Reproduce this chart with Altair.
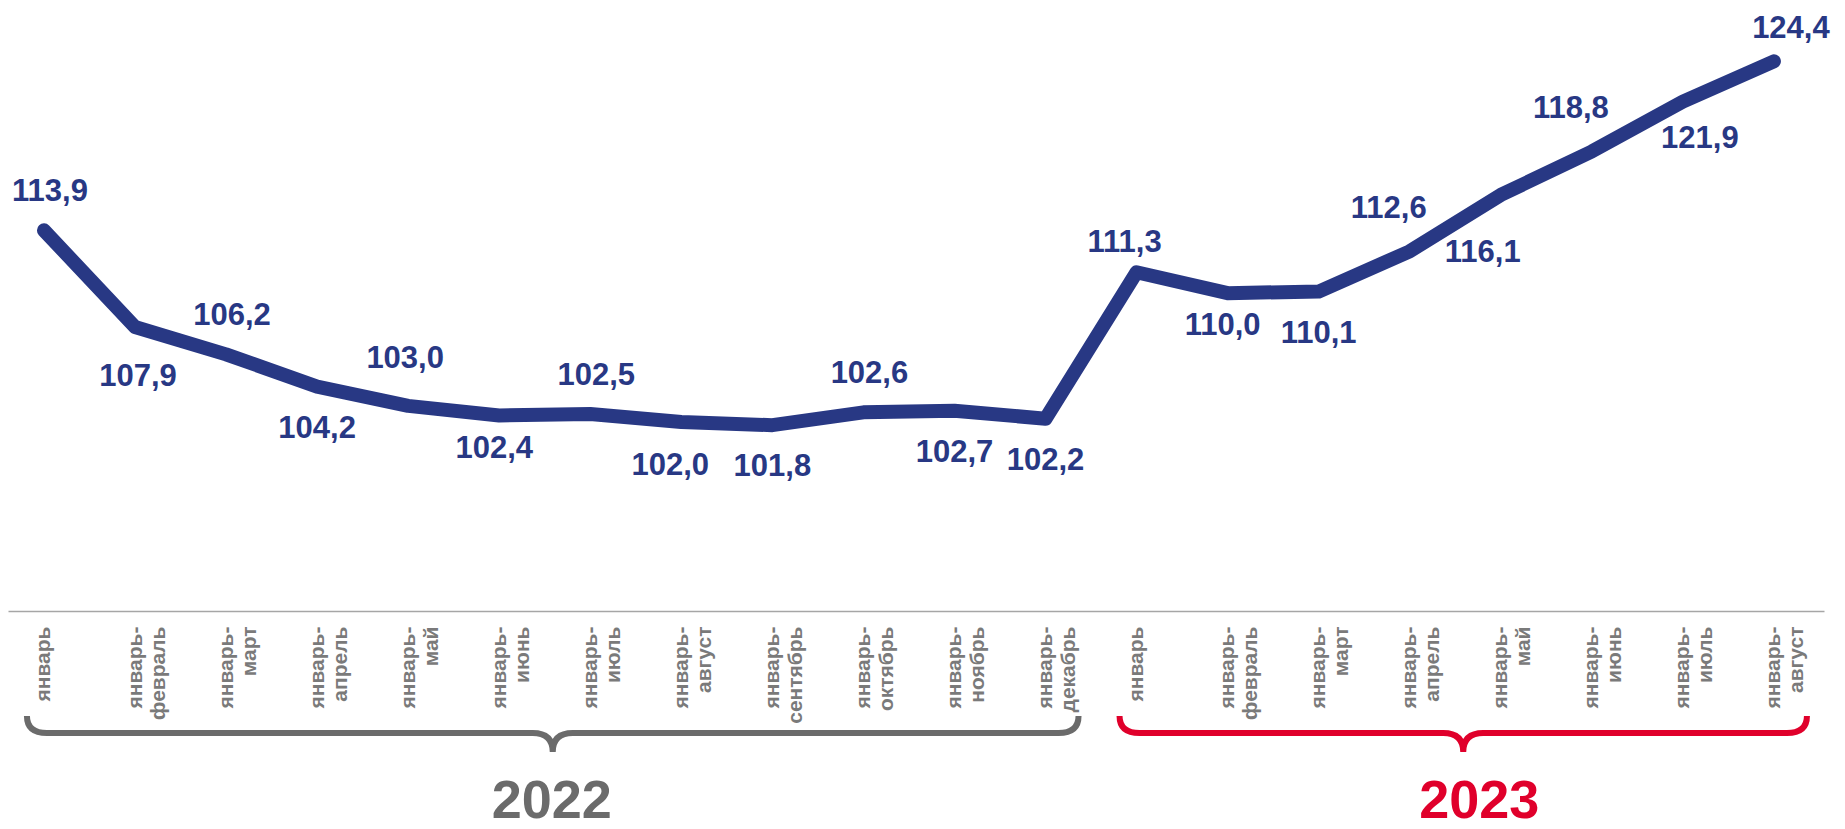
import json
import altair as alt
import pandas as pd

# ---------------- data ----------------
months_2022 = ["январь", "январь-февраль", "январь-март", "январь-апрель", "январь-май",
               "январь-июнь", "январь-июль", "январь-август", "январь-сентябрь",
               "январь-октябрь", "январь-ноябрь", "январь-декабрь"]
values_2022 = [113.9, 107.9, 106.2, 104.2, 103.0, 102.4, 102.5, 102.0, 101.8, 102.6, 102.7, 102.2]

months_2023 = ["январь", "январь-февраль", "январь-март", "январь-апрель", "январь-май",
               "январь-июнь", "январь-июль", "январь-август"]
values_2023 = [111.3, 110.0, 110.1, 112.6, 116.1, 118.8, 121.9, 124.4]

years = ["2022", "2023"]

# label placement relative to the line (categorical names)
place_2022 = ["above", "below-far", "above", "below", "above-far", "below-near", "above",
              "below-left", "below", "above", "below", "below"]
place_2023 = ["above-left-near", "below-near", "below", "above-left", "below-left-far",
              "above-left", "below-right", "above-right"]

# ---------------- style / layout ----------------
LINE_COLOR = "#283884"
AXIS_LABEL_COLOR = "#7a7a7a"
YEAR_COLORS = {"2022": "#6b6b6b", "2023": "#e0002b"}
YEAR_DX = {"2022": 7, "2023": 24}
FONT = "Liberation Sans"
LABEL_FONT = "Liberation Sans Narrow, Liberation Sans"

W, H = 1816, 603
STEP = 91.05
X0 = -0.395
X1 = X0 + W / STEP
Y_DOMAIN = [90.26, 127.71]

OFFSETS = {
    "above": (6, -38),
    "above-far": (-3, -47),
    "below": (0, 42),
    "below-far": (3, 50),
    "below-near": (-5, 33),
    "below-left": (-11, 44),
    "above-left-near": (-12, -29),
    "above-left": (-21, -42),
    "below-left-far": (-18, 58),
    "below-right": (17, 37),
    "above-right": (17, -32),
}

# ---------------- tables ----------------
rows = []
for year, months, vals, places in [("2022", months_2022, values_2022, place_2022),
                                   ("2023", months_2023, values_2023, place_2023)]:
    for m, v, p in zip(months, vals, places):
        rows.append(dict(i=len(rows), year=year, month=m, value=v,
                         text=f"{v:.1f}".replace(".", ","), place=p))
df = pd.DataFrame(rows)

label_lines = [m.replace("-", "-\n").split("\n") for m in df["month"]]
label_expr = json.dumps(label_lines, ensure_ascii=False) + "[datum.value]"

brace_rows = []
for year in years:
    sub = df[df["year"] == year]
    n = len(sub)
    A = round((n - 1) / 2 * STEP + 25, 1)
    path = (f"M{-A},-17 Q{-A},0 {-A + 20},0 L-20,0 Q0,0 0,19 Q0,0 20,0 "
            f"L{A - 20},0 Q{A},0 {A},-17")
    brace_rows.append(dict(year=year, center=sub["i"].mean(), path=path,
                           color=YEAR_COLORS[year]))
braces = pd.DataFrame(brace_rows)

# ---------------- chart ----------------
x_scale = alt.Scale(domain=[X0, X1], nice=False, zero=False)
y_scale = alt.Scale(domain=Y_DOMAIN, nice=False, zero=False)

x_enc = alt.X(
    "i:Q", scale=x_scale,
    axis=alt.Axis(values=list(range(len(df))), labelExpr=label_expr, labelAngle=270,
                  labelAlign="right", labelBaseline="middle", labelFontSize=21,
                  labelFontWeight="bold", labelColor=AXIS_LABEL_COLOR, labelFont=LABEL_FONT,
                  labelLineHeight=23, labelPadding=15, ticks=False, grid=False,
                  domainColor="#a6a6a6", domainWidth=1.5, labelOverlap=False,
                  labelFlush=False, title=None),
)
y_enc = alt.Y("value:Q", scale=y_scale, axis=None)

base = alt.Chart(df)
line = base.mark_line(color=LINE_COLOR, strokeWidth=14, strokeCap="round",
                      strokeJoin="round").encode(x=x_enc, y=y_enc)

label_layers = []
for p, (dx, dy) in OFFSETS.items():
    label_layers.append(
        base.transform_filter(alt.datum.place == p)
        .mark_text(font=FONT, fontSize=31, fontWeight="bold", color=LINE_COLOR,
                   align="center", baseline="middle", dx=dx, dy=dy)
        .encode(x=alt.X("i:Q", scale=x_scale), y=alt.Y("value:Q", scale=y_scale),
                text="text:N")
    )

brace_marks = alt.Chart(braces).mark_point(
    filled=False, size=4, strokeWidth=6, opacity=1, xOffset=8
).encode(
    x=alt.X("center:Q", scale=x_scale),
    y=alt.value(725),
    shape=alt.Shape("path:N", scale=None),
    color=alt.Color("color:N", scale=None),
)

year_layers = []
for year in years:
    year_layers.append(
        alt.Chart(braces).transform_filter(alt.datum.year == year).mark_text(
            font=FONT, fontSize=54, fontWeight="bold", align="center",
            baseline="alphabetic", dx=YEAR_DX[year]
        ).encode(
            x=alt.X("center:Q", scale=x_scale),
            y=alt.value(810),
            text="year:N",
            color=alt.Color("color:N", scale=None),
        )
    )

chart = alt.layer(line, *label_layers, brace_marks, *year_layers).properties(
    width=W, height=H,
    autosize=alt.AutoSizeParams(type="none"),
    padding={"left": 0, "top": 0, "right": 13, "bottom": 218},
).configure_view(stroke=None)

chart.save("out.html", embed_options={"renderer": "svg", "actions": False})
